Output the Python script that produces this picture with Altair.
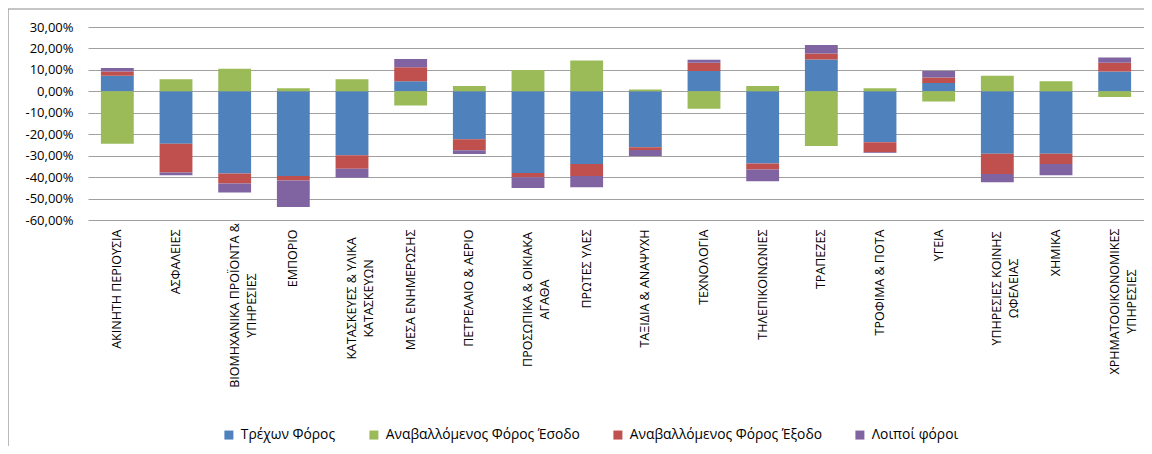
import altair as alt
import pandas as pd

categories = [
    "ΑΚΙΝΗΤΗ ΠΕΡΙΟΥΣΙΑ", "ΑΣΦΑΛΕΙΕΣ", "ΒΙΟΜΗΧΑΝΙΚΑ ΠΡΟΪΟΝΤΑ &\nΥΠΗΡΕΣΙΕΣ", "ΕΜΠΟΡΙΟ",
    "ΚΑΤΑΣΚΕΥΕΣ & ΥΛΙΚΑ\nΚΑΤΑΣΚΕΥΩΝ", "ΜΕΣΑ ΕΝΗΜΕΡΩΣΗΣ", "ΠΕΤΡΕΛΑΙΟ & ΑΕΡΙΟ",
    "ΠΡΟΣΩΠΙΚΑ & ΟΙΚΙΑΚΑ\nΑΓΑΘΑ", "ΠΡΩΤΕΣ ΥΛΕΣ", "ΤΑΞΙΔΙΑ & ΑΝΑΨΥΧΗ", "ΤΕΧΝΟΛΟΓΙΑ",
    "ΤΗΛΕΠΙΚΟΙΝΩΝΙΕΣ", "ΤΡΑΠΕΖΕΣ", "ΤΡΟΦΙΜΑ & ΠΟΤΑ", "ΥΓΕΙΑ",
    "ΥΠΗΡΕΣΙΕΣ ΚΟΙΝΗΣ\nΩΦΕΛΕΙΑΣ", "ΧΗΜΙΚΑ", "ΧΡΗΜΑΤΟΟΙΚΟΝΟΜΙΚΕΣ\nΥΠΗΡΕΣΙΕΣ",
]
series_names = ["Τρέχων Φόρος", "Αναβαλλόμενος Φόρος Έσοδο",
                "Αναβαλλόμενος Φόρος Έξοδο", "Λοιποί φόροι"]
series_colors = ["#4F81BD", "#9BBB59", "#C0504D", "#8064A2"]

current_tax = [7.3, -24.4, -38.3, -39.5, -29.8, 4.7, -22.3, -38.1, -33.9,
               -26.1, 9.5, -33.6, 14.8, -23.75, 3.9, -29.1, -29.1, 9.2]
deferred_income = [-24.4, 5.6, 10.5, 1.4, 5.6, -6.6, 2.5, 10.0, 14.4,
                   0.8, -8.1, 2.5, -25.5, 1.4, -4.7, 7.3, 4.7, -2.7]
deferred_expense = [1.9, -13.4, -4.7, -2.1, -6.3, 6.5, -5.2, -2.0, -5.6,
                    -1.2, 3.8, -2.8, 2.9, -4.7, 2.5, -9.4, -4.8, 4.1]
other_taxes = [1.7, -1.3, -4.2, -12.3, -4.2, 3.9, -1.7, -5.0, -5.2,
               -2.8, 1.4, -5.5, 3.9, -0.3, 3.1, -3.9, -5.2, 2.5]

y_ticks = [30, 20, 10, 0, -10, -20, -30, -40, -50, -60]

# multi-line labels: first word -> half width of longest line (for centred lines)
wrapped_half = {"ΒΙΟΜΗΧΑΝΙΚΑ": 76, "ΚΑΤΑΣΚΕΥΕΣ": 69, "ΠΡΟΣΩΠΙΚΑ": 70,
                "ΥΠΗΡΕΣΙΕΣ": 59, "ΧΡΗΜΑΤΟΟΙΚΟΝΟΜΙΚΕΣ": 72}

series_values = [current_tax, deferred_income, deferred_expense, other_taxes]
rows = []
for si, (name, vals) in enumerate(zip(series_names, series_values)):
    for cat, v in zip(categories, vals):
        rows.append({"category": cat, "series": name, "order": si, "value": v})
df = pd.DataFrame(rows)

W, H = 1056, 193
FONT = "Open Sans"
BASE_PAD = 9

pad_conditions = [
    {"test": f"indexof(datum.value, '{w}') === 0 && indexof(datum.value, '\\n') >= 0",
     "value": BASE_PAD + half}
    for w, half in wrapped_half.items()
]

bars = alt.Chart(df).mark_bar().encode(
    x=alt.X("category:N", sort=categories,
            scale=alt.Scale(paddingInner=0.44, paddingOuter=0.22),
            axis=alt.Axis(title=None, labelAngle=270,
                          labelAlign={"condition": {"test": "indexof(datum.value, '\\n') >= 0",
                                                    "value": "center"},
                                      "value": "right"},
                          labelBaseline="middle",
                          labelPadding={"condition": pad_conditions, "value": BASE_PAD},
                          labelExpr="split(datum.label, '\\n')",
                          labelLineHeight=17, labelFontSize=12.5,
                          labelFont=FONT, labelColor="#000000",
                          ticks=False, domain=False, grid=False,
                          labelOverlap=False, labelLimit=300)),
    y=alt.Y("value:Q", stack="zero",
            scale=alt.Scale(domain=[-60, 30], nice=False, zero=False),
            axis=alt.Axis(title=None, values=y_ticks,
                          labelExpr="replace(replace(format(datum.value, '.2f'), '.', ','), '\u2212', '-') + '%'",
                          labelFontSize=13, labelFont=FONT, labelColor="#000000",
                          labelPadding=15, ticks=False, domain=False,
                          gridColor="#A0A0A0", gridWidth=1)),
    color=alt.Color("series:N", sort=series_names,
                    scale=alt.Scale(domain=series_names, range=series_colors),
                    legend=alt.Legend(title=None, orient="none", direction="horizontal",
                                      columns=4, legendX=134, legendY=401,
                                      symbolType="square", symbolSize=81,
                                      symbolStrokeWidth=0, labelFont=FONT,
                                      labelFontSize=13.8, labelColor="#000000",
                                      labelOffset=5, columnPadding=31,
                                      labelLimit=400)),
    order=alt.Order("order:Q", sort="ascending"),
)

frame = alt.Chart(pd.DataFrame({"f": [0]})).mark_rect(
    fill=None, stroke="#8C8C8C", strokeWidth=1.2
).encode(
    x=alt.value(-80), x2=alt.value(W + 60),
    y=alt.value(-18), y2=alt.value(H + 300),
)

chart = alt.layer(frame, bars).properties(
    width=W, height=H,
    autosize=alt.AutoSizeParams(type="none"),
    padding={"left": 80, "top": 19, "right": 0, "bottom": 226},
).configure_view(stroke=None)

chart.save("out.html", embed_options={"renderer": "svg", "actions": False})
